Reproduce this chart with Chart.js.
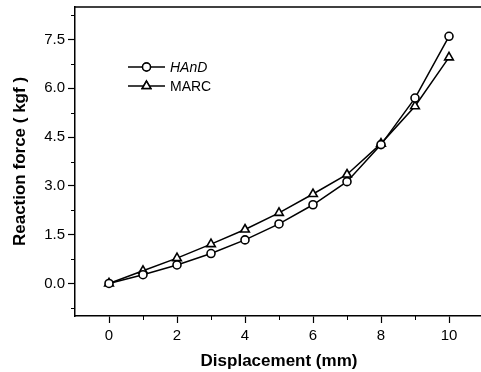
<!DOCTYPE html>
<html>
<head>
<meta charset="utf-8">
<script src="https://cdn.jsdelivr.net/npm/chart.js@4"></script>
<style>
    html, body { margin: 0; padding: 0; background: #fff; overflow: hidden; }
    #wrap { width: 483px; height: 372px; }
</style>
</head>
<body>
<div id="wrap"><canvas id="forceChart" width="483" height="372"></canvas></div>
<script>
// values
const displacement = [0, 1, 2, 3, 4, 5, 6, 7, 8, 9, 10];
const handForce = [0, 0.27, 0.57, 0.92, 1.34, 1.83, 2.42, 3.13, 4.27, 5.70, 7.60];
const marcForce = [0, 0.39, 0.78, 1.21, 1.66, 2.17, 2.75, 3.35, 4.30, 5.45, 6.95];

const xTicks = [0, 2, 4, 6, 8, 10];
const xMinorTicks = [1, 3, 5, 7, 9];
const yTicks = [0, 1.5, 3.0, 4.5, 6.0, 7.5];
const yMinorTicks = [-0.75, 0.75, 2.25, 3.75, 5.25, 6.75, 8.25];

const FONT = "'Liberation Sans', Arial, sans-serif";

// no extra padding from tick labels, the frame is pinned by layout padding
function pinScale(scale) {
    scale.paddingTop = 0;
    scale.paddingBottom = 0;
    scale.paddingLeft = 0;
    scale.paddingRight = 0;
}

// top border, minor ticks and the in-plot legend
const extrasPlugin = {
    id: 'extras',
    afterDraw(chart) {
        const ctx = chart.ctx;
        const area = chart.chartArea;
        const xs = chart.scales.x;
        const ys = chart.scales.y;
        ctx.save();
        ctx.strokeStyle = '#000';
        ctx.lineWidth = 1.5;
        ctx.beginPath();
        ctx.moveTo(area.left, area.top);
        ctx.lineTo(area.right, area.top);
        ctx.stroke();

        ctx.lineWidth = 1;
        ctx.beginPath();
        xMinorTicks.forEach(v => {
            const px = Math.round(xs.getPixelForValue(v)) + 0.5;
            ctx.moveTo(px, area.bottom);
            ctx.lineTo(px, area.bottom + 4);
        });
        yMinorTicks.forEach(v => {
            const py = Math.round(ys.getPixelForValue(v)) + 0.5;
            ctx.moveTo(area.left - 4, py);
            ctx.lineTo(area.left, py);
        });
        ctx.stroke();

        // legend
        const entries = [
            { label: 'HAnD', style: 'circle', radius: 4, italic: true, y: 67 },
            { label: 'MARC', style: 'triangle', radius: 5, italic: false, y: 86 }
        ];
        entries.forEach(e => {
            ctx.strokeStyle = '#000';
            ctx.lineWidth = 1.5;
            ctx.beginPath();
            ctx.moveTo(128, e.y);
            ctx.lineTo(165, e.y);
            ctx.stroke();
            ctx.fillStyle = '#fff';
            Chart.helpers.drawPoint(ctx, { pointStyle: e.style, radius: e.radius, borderWidth: 1.6 }, 146.5, e.y);
            ctx.fill();
            ctx.stroke();
            ctx.fillStyle = '#000';
            ctx.font = (e.italic ? 'italic ' : '') + '14px ' + FONT;
            ctx.textBaseline = 'middle';
            ctx.textAlign = 'left';
            ctx.fillText(e.label, 170, e.y + 1);
        });
        ctx.restore();
    }
};

const ctx = document.getElementById('forceChart').getContext('2d');

new Chart(ctx, {
    type: 'line',
    data: {
        labels: displacement,
        datasets: [
            {
                label: 'HAnD',
                data: displacement.map((x, i) => ({ x: x, y: handForce[i] })),
                borderColor: '#000',
                borderWidth: 1.5,
                pointStyle: 'circle',
                pointRadius: 4,
                pointBorderWidth: 1.6,
                pointBackgroundColor: '#fff',
                pointBorderColor: '#000',
                tension: 0
            },
            {
                label: 'MARC',
                data: displacement.map((x, i) => ({ x: x, y: marcForce[i] })),
                borderColor: '#000',
                borderWidth: 1.5,
                pointStyle: 'triangle',
                pointRadius: 5,
                pointBorderWidth: 1.6,
                pointBackgroundColor: '#fff',
                pointBorderColor: '#000',
                tension: 0
            }
        ]
    },
    options: {
        responsive: false,
        animation: false,
        layout: { autoPadding: false, padding: { top: 7, right: 0, bottom: 0, left: 0 } },
        plugins: {
            legend: { display: false },
            tooltip: { enabled: false }
        },
        scales: {
            x: {
                type: 'linear',
                min: -1,
                max: 11,
                afterBuildTicks: scale => { scale.ticks = xTicks.map(v => ({ value: v })); },
                afterFit: scale => { scale.height = 56; pinScale(scale); },
                grid: { drawOnChartArea: false, drawTicks: true, tickLength: 7, color: '#000', tickWidth: 1.2 },
                border: { display: true, color: '#000', width: 1.5 },
                ticks: {
                    color: '#000',
                    padding: 4,
                    maxRotation: 0,
                    font: { family: FONT, size: 15 },
                    callback: v => String(v)
                },
                title: {
                    display: true,
                    text: 'Displacement (mm)',
                    color: '#000',
                    padding: { top: 0, bottom: 0 },
                    font: { family: FONT, size: 17, weight: 'bold' }
                }
            },
            y: {
                type: 'linear',
                min: -1,
                max: 8.5,
                afterBuildTicks: scale => { scale.ticks = yTicks.map(v => ({ value: v })); },
                afterFit: scale => { scale.width = 75; pinScale(scale); },
                grid: { drawOnChartArea: false, drawTicks: true, tickLength: 7, color: '#000', tickWidth: 1.2 },
                border: { display: true, color: '#000', width: 1.5 },
                ticks: {
                    color: '#000',
                    padding: 3,
                    font: { family: FONT, size: 15 },
                    callback: v => v.toFixed(1)
                },
                title: {
                    display: true,
                    text: 'Reaction force ( kgf )',
                    color: '#000',
                    padding: { top: 10, bottom: 0 },
                    font: { family: FONT, size: 17, weight: 'bold' }
                }
            }
        }
    },
    plugins: [extrasPlugin]
});
</script>
</body>
</html>
